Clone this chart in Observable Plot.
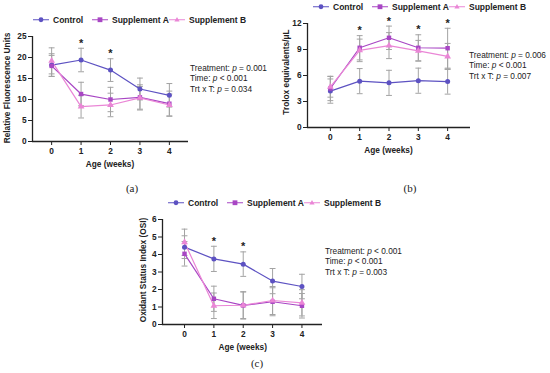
<!DOCTYPE html>
<html><head><meta charset="utf-8">
<script src="https://cdn.jsdelivr.net/npm/d3@7"></script>
<script src="https://cdn.jsdelivr.net/npm/@observablehq/plot@0.6"></script>
<style>
body{margin:0;background:#fff;}
#fig{position:relative;width:550px;height:373px;overflow:hidden;font-family:"Liberation Sans",Arial,sans-serif;color:#222;background:#fff;}
.abs{position:absolute;white-space:nowrap;}
.leg{font-weight:bold;font-size:8.5px;line-height:1;transform:translateY(-50%);}
.pv{font-size:8.3px;line-height:10.4px;}
.ytitle{font-weight:bold;font-size:8.3px;transform:translate(-50%,-50%) rotate(-90deg);}
.xtitle{font-weight:bold;font-size:8.3px;transform:translate(-50%,-50%);}
.plab{font-family:"Liberation Serif","Times New Roman",serif;font-size:11px;transform:translate(-50%,-50%);}
</style></head>
<body><div id="fig"></div>
<script>
// ---- data ----
const weeks = [0, 1, 2, 3, 4];
const seriesNames = ["Control", "Supplement A", "Supplement B"];
const seriesColors = ["#5d52c2", "#a846c4", "#ea86d6"];
const seriesSymbols = ["circle", "square", "triangle"];

// (a) Relative Fluorescence Units
const rfuControl = [18.2, 19.4, 17.0, 12.5, 11.0];
const rfuControlSD = [2.7, 2.8, 2.7, 2.6, 2.8];
const rfuSuppA = [18.0, 11.3, 10.0, 10.5, 9.0];
const rfuSuppASD = [2.5, 2.8, 2.9, 3.0, 3.0];
const rfuSuppB = [19.2, 8.3, 8.7, 10.4, 8.7];
const rfuSuppBSD = [3.1, 2.7, 2.8, 2.7, 2.6];
const rfuSig = [false, true, true, false, false];
const rfuTicks = [0, 5, 10, 15, 20, 25];
const rfuStats = ["Treatment: <i>p</i> = 0.001", "Time: <i>p</i> &lt; 0.001", "Trt x T: <i>p</i> = 0.034"];

// (b) Trolox equivalents/µL
const teControl = [4.2, 5.35, 5.15, 5.4, 5.3];
const teControlSD = [1.4, 1.45, 1.45, 1.45, 1.45];
const teSuppA = [4.5, 9.2, 10.35, 9.2, 9.15];
const teSuppASD = [1.4, 1.4, 1.35, 1.5, 2.3];
const teSuppB = [4.7, 8.9, 9.45, 8.85, 8.2];
const teSuppBSD = [1.2, 1.3, 1.5, 1.2, 1.5];
const teSig = [false, true, true, true, true];
const teTicks = [0, 3, 6, 9, 12];
const teStats = ["Treatment: <i>p</i> = 0.006", "Time: <i>p</i> &lt; 0.001", "Trt x T: <i>p</i> = 0.007"];

// (c) Oxidant Status Index
const osiControl = [4.42, 3.75, 3.45, 2.48, 2.17];
const osiControlSD = [0.65, 0.72, 0.7, 0.72, 0.7];
const osiSuppA = [4.04, 1.47, 1.09, 1.3, 1.07];
const osiSuppASD = [0.7, 0.72, 0.78, 0.8, 0.7];
const osiSuppB = [4.7, 1.07, 1.1, 1.37, 1.24];
const osiSuppBSD = [0.75, 0.73, 0.76, 0.8, 0.75];
const osiSig = [false, true, true, false, false];
const osiTicks = [0, 1, 2, 3, 4, 5, 6];
const osiStats = ["Treatment: <i>p</i> &lt; 0.001", "Time: <i>p</i> &lt; 0.001", "Trt x T: <i>p</i> = 0.003"];

const fig = document.getElementById("fig");

function addDiv(cls, left, top, html) {
  const d = document.createElement("div");
  d.className = "abs " + cls;
  d.style.left = left + "px";
  d.style.top = top + "px";
  d.innerHTML = html;
  fig.appendChild(d);
  return d;
}

function legend(textLeft, cy) {
  const offsets = [0, 59, 136];
  seriesNames.forEach((name, i) => {
    const x = textLeft + offsets[i];
    const sw = 16;
    const c = seriesColors[i];
    let marker;
    if (i === 0) marker = `<circle cx="8" cy="5" r="2.4" fill="${c}"/>`;
    else if (i === 1) marker = `<rect x="5.6" y="2.6" width="4.8" height="4.8" fill="${c}"/>`;
    else marker = `<path d="M8,2.3L10.6,6.8L5.4,6.8Z" fill="${c}"/>`;
    addDiv("leg", x - sw - 4, cy,
      `<svg width="${sw}" height="10" style="position:absolute;left:0;top:-1px"><line x1="0" x2="${sw}" y1="5" y2="5" stroke="${c}" stroke-width="1.2"/>${marker}</svg><span style="position:absolute;left:${sw + 4}px;top:0">${name}</span><span style="visibility:hidden">${"\u00a0".repeat(4)}${name}</span>`);
  });
}

function panel(cfg) {
  const means = cfg.means, sds = cfg.sds;
  const rows = [];
  seriesNames.forEach((s, k) => weeks.forEach((w, i) => rows.push({series: s, week: w, mean: means[k][i], sd: sds[k][i]})));
  const sigRows = weeks.filter((w, i) => cfg.sig[i]).map(w => {
    const i = weeks.indexOf(w);
    return {week: w, top: d3.max(seriesNames, (s, k) => means[k][i] + sds[k][i])};
  });
  const xmin = cfg.xDomain[0];
  const ymax = cfg.yTicks[cfg.yTicks.length - 1];
  const capW = 0.1;
  const svg = Plot.plot({
    width: cfg.width, height: cfg.height,
    marginLeft: cfg.ml, marginRight: cfg.mr, marginTop: cfg.mt, marginBottom: cfg.mb,
    style: {fontFamily: "'Liberation Sans', Arial, sans-serif", fontSize: "8.3px", fontWeight: "bold", color: "#222", background: "transparent", overflow: "visible"},
    x: {domain: cfg.xDomain, ticks: weeks, tickSize: 4, tickPadding: 3, tickFormat: d => String(d), label: null},
    y: {domain: [0, ymax], ticks: cfg.yTicks, tickSize: 4, tickPadding: 2, tickFormat: d => String(d), label: null},
    color: {domain: seriesNames, range: seriesColors},
    symbol: {domain: seriesNames, range: seriesSymbols},
    marks: [
      Plot.ruleX(rows, {x: "week", y1: d => d.mean - d.sd, y2: d => d.mean + d.sd, stroke: "#a3a3a3", strokeWidth: 1}),
      Plot.link(rows, {x1: d => d.week - capW, x2: d => d.week + capW, y1: d => d.mean + d.sd, y2: d => d.mean + d.sd, stroke: "#a3a3a3", strokeWidth: 1}),
      Plot.link(rows, {x1: d => d.week - capW, x2: d => d.week + capW, y1: d => d.mean - d.sd, y2: d => d.mean - d.sd, stroke: "#a3a3a3", strokeWidth: 1}),
      Plot.line(rows, {x: "week", y: "mean", z: "series", stroke: "series", strokeWidth: 1.2}),
      Plot.dot(rows, {x: "week", y: "mean", fill: "series", symbol: "series", r: 2.5, stroke: "none"}),
      Plot.text(sigRows, {x: "week", y: "top", text: () => "*", dy: -5, fontSize: 11, fontWeight: "bold", fill: "#222"}),
      Plot.ruleX([xmin], {y1: 0, y2: ymax, stroke: "#222", strokeWidth: 1.3}),
      Plot.ruleY([0], {stroke: "#222", strokeWidth: 1.3})
    ]
  });
  svg.style.position = "absolute";
  svg.style.left = cfg.left + "px";
  svg.style.top = cfg.top + "px";
  fig.appendChild(svg);

  const frameLeft = cfg.left + cfg.ml;
  const frameRight = cfg.left + cfg.width - cfg.mr;
  const x0 = frameLeft + (0 - cfg.xDomain[0]) / (cfg.xDomain[1] - cfg.xDomain[0]) * (frameRight - frameLeft);
  const x4 = frameLeft + (4 - cfg.xDomain[0]) / (cfg.xDomain[1] - cfg.xDomain[0]) * (frameRight - frameLeft);
  const frameBottom = cfg.top + cfg.height - cfg.mb;
  addDiv("xtitle", (x0 + x4) / 2, frameBottom + 23, "Age (weeks)");
  addDiv("ytitle", cfg.yTitleX, cfg.yTitleY, cfg.yTitle);
  legend(cfg.legendX, cfg.legendY);
  addDiv("pv", cfg.pvX, cfg.pvY, cfg.stats.join("<br>"));
  addDiv("plab", cfg.labX, cfg.labY, cfg.lab);
}

panel({
  means: [rfuControl, rfuSuppA, rfuSuppB], sds: [rfuControlSD, rfuSuppASD, rfuSuppBSD], sig: rfuSig,
  yTicks: rfuTicks, xDomain: [-0.65, 4.65],
  left: 0, top: 26, width: 200, height: 150, ml: 32, mr: 12, mt: 10, mb: 35,
  yTitle: "Relative Fluorescence Units", yTitleX: 7, yTitleY: 88,
  legendX: 53, legendY: 20, stats: rfuStats, pvX: 190, pvY: 63, lab: "(a)", labX: 132, labY: 188
});
panel({
  means: [teControl, teSuppA, teSuppB], sds: [teControlSD, teSuppASD, teSuppBSD], sig: teSig,
  yTicks: teTicks, xDomain: [-0.78, 4.78],
  left: 275, top: 13, width: 200, height: 149, ml: 32, mr: 5, mt: 10, mb: 35,
  yTitle: "Trolox equivalents/\u03bcL", yTitleX: 286, yTitleY: 72,
  legendX: 333, legendY: 7, stats: teStats, pvX: 469, pvY: 50, lab: "(b)", labX: 410, labY: 188
});
panel({
  means: [osiControl, osiSuppA, osiSuppB], sds: [osiControlSD, osiSuppASD, osiSuppBSD], sig: osiSig,
  yTicks: osiTicks, xDomain: [-0.75, 4.7],
  left: 130, top: 209, width: 195, height: 150, ml: 32, mr: 3, mt: 10, mb: 35,
  yTitle: "Oxidant Status Index (OSI)", yTitleX: 143, yTitleY: 270,
  legendX: 188, legendY: 203, stats: osiStats, pvX: 325, pvY: 246, lab: "(c)", labX: 257, labY: 363
});
</script>
</body></html>
